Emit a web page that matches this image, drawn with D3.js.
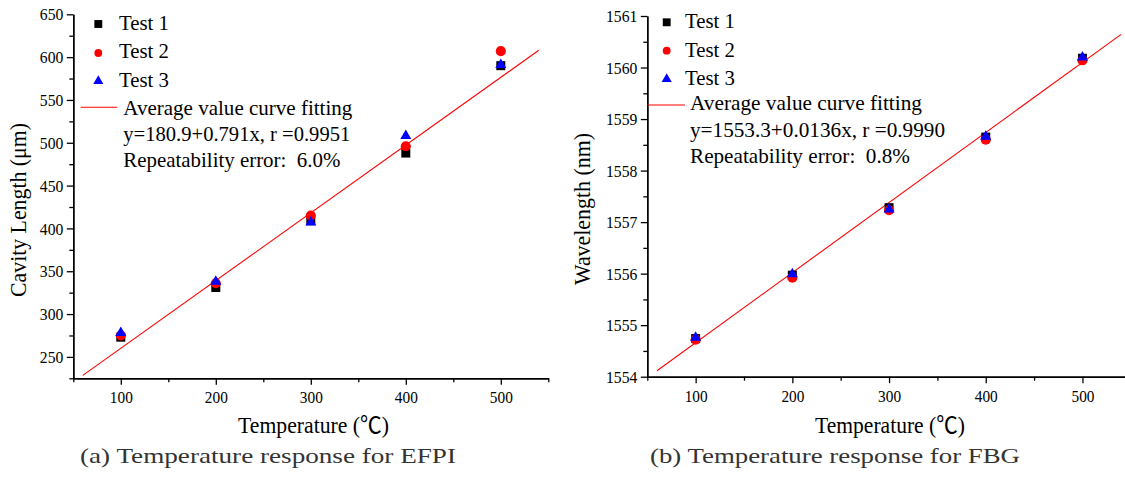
<!DOCTYPE html>
<html>
<head>
<meta charset="utf-8">
<script src="https://cdn.jsdelivr.net/npm/d3@7"></script>
<style>
  html, body { margin: 0; padding: 0; background: #fff; }
  svg { display: block; }
  text { font-family: "Liberation Serif", "Times New Roman", "Noto Sans CJK SC", serif; white-space: pre; }
</style>
</head>
<body>
<svg id="chart" width="1125" height="481"></svg>
<script>
// ---- data -------------------------------------------------------------
const temperatures = [100, 200, 300, 400, 500];
const seriesNames = ["Test 1", "Test 2", "Test 3"];

// EFPI cavity length (µm) per test run
const efpiTest1 = [273, 331, 409, 488, 590];
const efpiTest2 = [275, 336, 415, 496, 607];
const efpiTest3 = [278, 338, 407, 508, 591];

// FBG Bragg wavelength (nm) per test run
const fbgTest1 = [1554.74, 1555.97, 1557.28, 1558.65, 1560.18];
const fbgTest2 = [1554.72, 1555.92, 1557.23, 1558.60, 1560.14];
const fbgTest3 = [1554.76, 1555.99, 1557.25, 1558.66, 1560.20];

// linear fits of the averaged values: y = a + b x
const efpiFit = [180.9, 0.791];
const fbgFit = [1553.3, 0.0136];
const fitRange = [60, 540];

// axis ticks
const xMajorTicks = [100, 200, 300, 400, 500];
const xMinorTicks = [50, 150, 250, 350, 450, 550];
const efpiMajorTicks = [250, 300, 350, 400, 450, 500, 550, 600, 650];
const efpiMinorTicks = [225, 275, 325, 375, 425, 475, 525, 575, 625];
const fbgMajorTicks = [1554, 1555, 1556, 1557, 1558, 1559, 1560, 1561];
const fbgMinorTicks = [1554.5, 1555.5, 1556.5, 1557.5, 1558.5, 1559.5, 1560.5];

// text
const efpiFitLines = ["Average value curve fitting", "y=180.9+0.791x, r =0.9951", "Repeatability error:  6.0%"];
const fbgFitLines = ["Average value curve fitting", "y=1553.3+0.0136x, r =0.9990", "Repeatability error:  0.8%"];

// ---- drawing ------------------------------------------------------------
const svg = d3.select("#chart");
const colors = ["#000000", "#ff0000", "#0000ff"];
const shapes = [d3.symbolSquare, d3.symbolCircle, d3.symbolTriangle];
const dataSizes = [81, 80, 52];
const legendSizes = [62, 48, 44];

// squeeze a text element horizontally to a given width
function fitWidth(sel, w) {
  sel.attr("textLength", w).attr("lengthAdjust", "spacingAndGlyphs");
}
function condense(sel, k) {
  sel.each(function () {
    const w = this.getComputedTextLength();
    d3.select(this).attr("textLength", w * k).attr("lengthAdjust", "spacingAndGlyphs");
  });
}

const panels = [
  {
    series: [efpiTest1, efpiTest2, efpiTest3], fit: efpiFit, fitLines: efpiFitLines,
    xRange: [73.3, 548.3], yRange: [378.3, 14.3], yDomain: [225, 650],
    yMajor: efpiMajorTicks, yMinor: efpiMinorTicks, yFormat: d3.format("d"),
    yTitle: "Cavity Length (\u03bcm)", yTitleX: 26, yTitleStart: 297, yTitleLen: 174,
    xTitleX: 238, xTitleLen: 151,
    legend: { mx: 98.3, my: [24, 53, 81], tx: 119, ty: [30, 58.3, 87],
              lx: [80.7, 117.3], ly: 107.3, fx: 123.3, fy: [115, 140.5, 166.5],
              widths: [229, 227, 217] },
    caption: "(a) Temperature response for EFPI", capX: 80, capLen: 376
  },
  {
    series: [fbgTest1, fbgTest2, fbgTest3], fit: fbgFit, fitLines: fbgFitLines,
    xRange: [647.3, 1130.8], yRange: [376.7, 16], yDomain: [1554, 1561],
    yMajor: fbgMajorTicks, yMinor: fbgMinorTicks, yFormat: d3.format("d"),
    yTitle: "Wavelength (nm)", yTitleX: 590, yTitleStart: 285, yTitleLen: 152,
    xTitleX: 815, xTitleLen: 150,
    legend: { mx: 666.7, my: [22.3, 50.7, 79], tx: 685, ty: [28.3, 56.7, 85],
              lx: [647.3, 685], ly: 105, fx: 690, fy: [110, 136.7, 163.3],
              widths: [232, 255, 220] },
    caption: "(b) Temperature response for FBG", capX: 650, capLen: 370
  }
];

panels.forEach(p => {
  const x = d3.scaleLinear().domain([50, 550]).range(p.xRange);
  const y = d3.scaleLinear().domain(p.yDomain).range(p.yRange);
  const g = svg.append("g");
  const x0 = p.xRange[0], yb = p.yRange[0];

  // axes: minor ticks first, then major ticks with labels
  const styleAxis = a => {
    a.selectAll("path.domain").attr("stroke", "#000").attr("stroke-width", 1.4);
    a.selectAll(".tick line").attr("stroke", "#000").attr("stroke-width", 1.3);
  };
  g.append("g").attr("transform", `translate(0,${yb})`)
    .call(d3.axisBottom(x).tickValues(xMinorTicks).tickFormat("").tickSize(4).tickSizeOuter(0))
    .call(styleAxis);
  const xa = g.append("g").attr("transform", `translate(0,${yb})`)
    .call(d3.axisBottom(x).tickValues(xMajorTicks).tickFormat(d3.format("d")).tickSize(6.5).tickSizeOuter(0))
    .call(styleAxis);
  g.append("g").attr("transform", `translate(${x0},0)`)
    .call(d3.axisLeft(y).tickValues(p.yMinor).tickFormat("").tickSize(4).tickSizeOuter(0))
    .call(styleAxis);
  const ya = g.append("g").attr("transform", `translate(${x0},0)`)
    .call(d3.axisLeft(y).tickValues(p.yMajor).tickFormat(p.yFormat).tickSize(6.5).tickSizeOuter(0))
    .call(styleAxis);

  xa.selectAll("text").attr("y", 25).attr("dy", null)
    .attr("font-family", "Liberation Serif").attr("font-size", 17).attr("fill", "#000");
  ya.selectAll("text").attr("x", -10).attr("dy", "0.33em")
    .attr("font-family", "Liberation Serif").attr("font-size", 17).attr("fill", "#000");
  condense(xa.selectAll("text"), 0.9);
  condense(ya.selectAll("text"), 0.92);

  // fitted line
  g.append("line")
    .attr("x1", x(fitRange[0])).attr("y1", y(p.fit[0] + p.fit[1] * fitRange[0]))
    .attr("x2", x(fitRange[1])).attr("y2", y(p.fit[0] + p.fit[1] * fitRange[1]))
    .attr("stroke", "#ff0000").attr("stroke-width", 1.1);

  // measured points
  p.series.forEach((vals, i) => {
    g.append("g").selectAll("path")
      .data(vals)
      .join("path")
      .attr("transform", (v, j) => `translate(${x(temperatures[j])},${y(v)})`)
      .attr("d", d3.symbol().type(shapes[i]).size(dataSizes[i]))
      .attr("fill", colors[i]);
  });

  // legend
  const L = p.legend;
  seriesNames.forEach((name, i) => {
    g.append("path")
      .attr("transform", `translate(${L.mx},${L.my[i]})`)
      .attr("d", d3.symbol().type(shapes[i]).size(legendSizes[i]))
      .attr("fill", colors[i]);
    g.append("text").attr("x", L.tx).attr("y", L.ty[i])
      .attr("font-size", 22).attr("fill", "#000").text(name)
      .call(fitWidth, 50);
  });
  g.append("line").attr("x1", L.lx[0]).attr("x2", L.lx[1]).attr("y1", L.ly).attr("y2", L.ly)
    .attr("stroke", "#ff0000").attr("stroke-width", 1.1);
  p.fitLines.forEach((t, i) => {
    g.append("text").attr("x", L.fx).attr("y", L.fy[i])
      .attr("font-size", 22).attr("fill", "#000").text(t)
      .call(fitWidth, L.widths[i]);
  });

  // axis titles
  g.append("text").attr("x", p.xTitleX).attr("y", 433)
    .attr("font-size", 23).attr("fill", "#000")
    .text("Temperature (\u2103)")
    .call(fitWidth, p.xTitleLen);

  g.append("text")
    .attr("transform", `translate(${p.yTitleX},${p.yTitleStart}) rotate(-90)`)
    .attr("font-size", 23).attr("fill", "#000")
    .text(p.yTitle)
    .call(fitWidth, p.yTitleLen);

  // caption
  g.append("text").attr("x", p.capX).attr("y", 463)
    .attr("font-size", 21).attr("fill", "#333")
    .text(p.caption)
    .call(fitWidth, p.capLen);
});
</script>
</body>
</html>
